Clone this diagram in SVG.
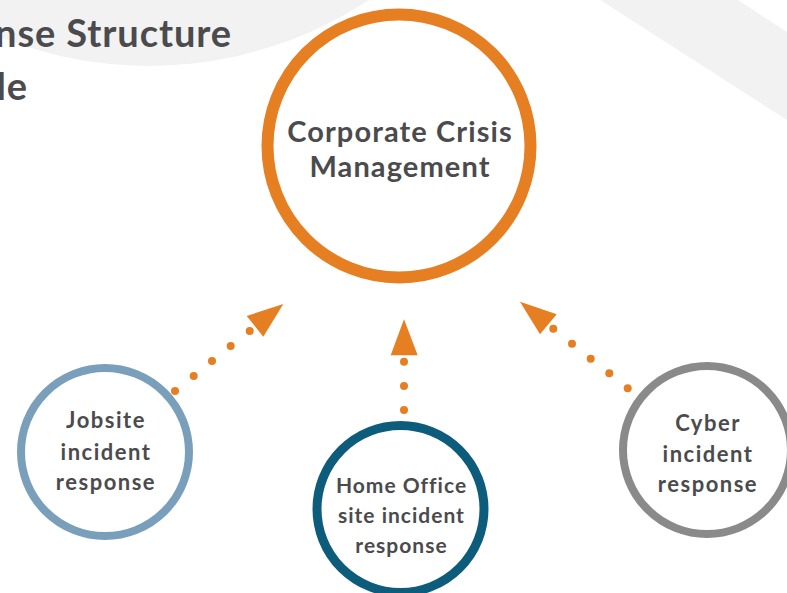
<svg xmlns="http://www.w3.org/2000/svg" width="787" height="593" viewBox="0 0 787 593">
<style>
.bg{fill:#f2f2f2}
.title{font-family:Lato,"Liberation Sans",sans-serif;font-weight:700;font-size:38px;letter-spacing:0.9px;fill:#4b4b4d}
.main{font-family:Lato,"Liberation Sans",sans-serif;font-weight:700;font-size:29px;letter-spacing:1.1px;fill:#4b4b4d;text-anchor:middle}
.lbl{font-family:Lato,"Liberation Sans",sans-serif;font-weight:700;font-size:22px;letter-spacing:1.5px;fill:#4b4b4d;text-anchor:middle}
.lbl2{font-family:Lato,"Liberation Sans",sans-serif;font-weight:700;font-size:21px;letter-spacing:1px;fill:#4b4b4d;text-anchor:middle}
.dot{fill:#e67e22}
.head{fill:#e67e22}
.ring{fill:#ffffff}
</style>
<rect width="787" height="593" fill="#ffffff"/>
<g id="background">
<ellipse class="bg" cx="149" cy="-379" rx="420" ry="445"/>
<polygon class="bg" points="600,0 738,0 787,32 787,120"/>
<text class="title" x="232" y="47" text-anchor="end">nse Structure</text>
<text class="title" x="28" y="100" text-anchor="end">le</text>
</g>
<g id="connectors">
<g id="arrow-jobsite">
<circle class="dot" cx="175" cy="391" r="4"/>
<circle class="dot" cx="193.7" cy="376" r="4"/>
<circle class="dot" cx="212" cy="361" r="4"/>
<circle class="dot" cx="230.7" cy="346" r="4"/>
<circle class="dot" cx="249.7" cy="331" r="4"/>
<polygon class="head" points="283.3,304 246.7,316 263.3,336.7"/>
</g>
<g id="arrow-home">
<circle class="dot" cx="404" cy="410" r="4"/>
<circle class="dot" cx="404" cy="386" r="4"/>
<circle class="dot" cx="404" cy="361.7" r="4"/>
<polygon class="head" points="404,319.3 390.7,355.3 417.7,355.3"/>
</g>
<g id="arrow-cyber">
<circle class="dot" cx="627.7" cy="388.3" r="4"/>
<circle class="dot" cx="609.3" cy="373.3" r="4"/>
<circle class="dot" cx="590.7" cy="358.7" r="4"/>
<circle class="dot" cx="572" cy="343.7" r="4"/>
<circle class="dot" cx="553.3" cy="328.7" r="4"/>
<polygon class="head" points="520,301.7 556.7,314.3 540,334.3"/>
</g>
</g>
<g id="node-corporate">
<circle class="ring" cx="399" cy="146" r="131.5" stroke="#e67e22" stroke-width="12"/>
<text class="main" x="400" y="142">Corporate Crisis</text>
<text class="main" x="400" y="177">Management</text>
</g>
<g id="node-jobsite">
<circle class="ring" cx="105" cy="452" r="84" stroke="#7a9fbb" stroke-width="8"/>
<text class="lbl" x="106" y="428">Jobsite</text>
<text class="lbl" x="106" y="460">incident</text>
<text class="lbl" x="106" y="490">response</text>
</g>
<g id="node-home">
<circle class="ring" cx="400.5" cy="509" r="83.5" stroke="#0d5c7b" stroke-width="9"/>
<text class="lbl2" x="401.5" y="493">Home Office</text>
<text class="lbl2" x="401.5" y="523">site incident</text>
<text class="lbl2" x="401.5" y="553">response</text>
</g>
<g id="node-cyber">
<circle class="ring" cx="707" cy="450" r="84" stroke="#8a8a8a" stroke-width="8"/>
<text class="lbl" x="708" y="431">Cyber</text>
<text class="lbl" x="708" y="462">incident</text>
<text class="lbl" x="708" y="492">response</text>
</g>
</svg>
